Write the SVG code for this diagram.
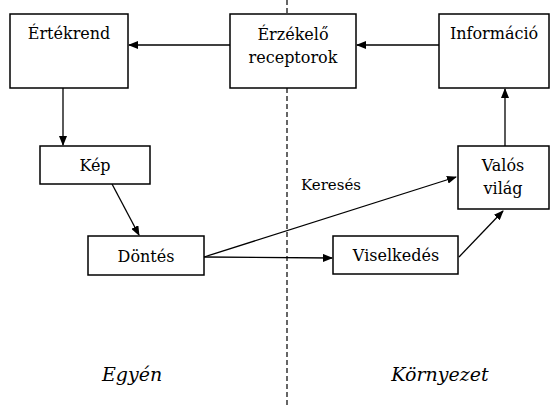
<svg xmlns="http://www.w3.org/2000/svg" width="560" height="407" viewBox="0 0 560 407">
<style>
.box{fill:#fff;stroke:#000;stroke-width:1.5}
.t{font-family:'DejaVu Serif',serif;font-size:16px;text-anchor:middle;fill:#000}
.k{font-family:'DejaVu Serif',serif;font-size:15px;text-anchor:start;fill:#000}
.i{font-family:'DejaVu Serif',serif;font-size:19px;font-style:italic;text-anchor:middle;fill:#000}
.c{fill:none;stroke:#000;stroke-width:1.3}
</style>
<defs>
<marker id="ah" markerWidth="10" markerHeight="8" refX="9" refY="4" orient="auto" markerUnits="userSpaceOnUse">
<path d="M0,0 L10,4 L0,8 Z" fill="#000"/>
</marker>
</defs>
<rect width="560" height="407" fill="#fff"/>
<line x1="287" y1="0" x2="287" y2="407" stroke="#000" stroke-width="1.2" stroke-dasharray="5,3"/>
<g id="connectors">
<line class="c" x1="230" y1="45" x2="129" y2="45" marker-end="url(#ah)"/>
<line class="c" x1="439" y1="45" x2="357" y2="45" marker-end="url(#ah)"/>
<line class="c" x1="63" y1="88" x2="63" y2="145" marker-end="url(#ah)"/>
<line class="c" x1="112" y1="184" x2="139" y2="235" marker-end="url(#ah)"/>
<line class="c" x1="204" y1="257" x2="456" y2="177" marker-end="url(#ah)"/>
<line class="c" x1="204" y1="257" x2="332" y2="258" marker-end="url(#ah)"/>
<line class="c" x1="459" y1="257" x2="503" y2="211" marker-end="url(#ah)"/>
<line class="c" x1="505" y1="146" x2="505" y2="89" marker-end="url(#ah)"/>
</g>
<g id="ertekrend"><rect class="box" x="10" y="14" width="118" height="74"/><text class="t" x="69" y="39">Értékrend</text></g>
<g id="erzekelo"><rect class="box" x="230" y="14" width="126" height="74"/><text class="t" x="293" y="40">Érzékelő</text><text class="t" x="293" y="63">receptorok</text></g>
<g id="informacio"><rect class="box" x="439" y="14" width="110" height="74"/><text class="t" x="494" y="39">Információ</text></g>
<g id="kep"><rect class="box" x="40" y="146" width="110" height="38"/><text class="t" x="95" y="171">Kép</text></g>
<g id="dontes"><rect class="box" x="88" y="236" width="116" height="39"/><text class="t" x="146" y="262">Döntés</text></g>
<g id="viselkedes"><rect class="box" x="333" y="236" width="125" height="38"/><text class="t" x="396" y="261">Viselkedés</text></g>
<g id="valos"><rect class="box" x="458" y="146" width="91" height="63"/><text class="t" x="503" y="171">Valós</text><text class="t" x="503" y="194">világ</text></g>
<text class="k" x="301" y="190">Keresés</text>
<text class="i" x="132" y="381">Egyén</text>
<text class="i" x="440" y="381">Környezet</text>
</svg>
